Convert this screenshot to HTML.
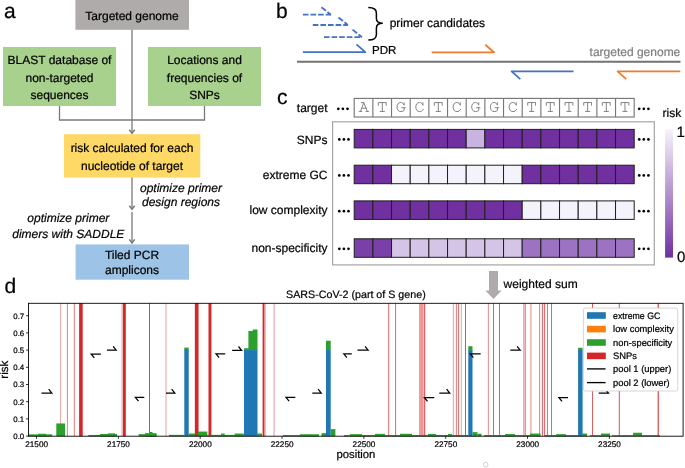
<!DOCTYPE html>
<html><head><meta charset="utf-8"><title>figure</title>
<style>
html,body{margin:0;padding:0;background:#fff;}
body{width:685px;height:468px;overflow:hidden;font-family:"Liberation Sans",sans-serif;}
svg{display:block;font-family:"Liberation Sans",sans-serif;text-rendering:geometricPrecision;}
text{stroke:currentColor;stroke-width:0.22px;}

</style></head><body>
<svg width="685" height="468" viewBox="0 0 685 468">
<rect width="685" height="468" fill="#fff"/>
<g opacity="0.999">
<g id="pa">
<rect x="75.4" y="0" width="113.6" height="29.8" fill="#AFABAB"/>
<rect x="3" y="47" width="113" height="59" fill="#A9D18E"/>
<rect x="148" y="47" width="113" height="59" fill="#A9D18E"/>
<rect x="64" y="134.2" width="136.3" height="43.4" fill="#FFD966"/>
<rect x="75.6" y="244.4" width="113.4" height="35.3" fill="#9DC3E6"/>
<g fill="none" stroke="#7a7a7a" stroke-width="1.3">
<path d="M132 29.5 V132.5"/>
<path d="M59.5 106 V120 H204.5 V106"/>
<path d="M132 177.6 V208.5"/>
<path d="M132 212 V242"/>
<path d="M129.3 129.70000000000002 L132 133.3 L134.7 129.70000000000002" stroke-width="1.5"/>
<path d="M129.3 205.70000000000002 L132 209.3 L134.7 205.70000000000002" stroke-width="1.5"/>
<path d="M129.3 239.4 L132 243 L134.7 239.4" stroke-width="1.5"/>
</g>
<text x="4" y="18" font-size="21" text-anchor="start" fill="#000" color="#000">a</text>
<text x="132" y="20.2" font-size="12" text-anchor="middle" fill="#000" color="#000">Targeted genome</text>
<text x="59.5" y="64.2" font-size="12" text-anchor="middle" fill="#000" color="#000">BLAST database of</text>
<text x="59.5" y="81.55000000000001" font-size="12" text-anchor="middle" fill="#000" color="#000">non-targeted</text>
<text x="59.5" y="98.9" font-size="12" text-anchor="middle" fill="#000" color="#000">sequences</text>
<text x="204.5" y="64.2" font-size="12" text-anchor="middle" fill="#000" color="#000">Locations and</text>
<text x="204.5" y="81.55000000000001" font-size="12" text-anchor="middle" fill="#000" color="#000">frequencies of</text>
<text x="204.5" y="98.9" font-size="12" text-anchor="middle" fill="#000" color="#000">SNPs</text>
<text x="132" y="152.3" font-size="12" text-anchor="middle" fill="#000" color="#000">risk calculated for each</text>
<text x="132" y="169.7" font-size="12" text-anchor="middle" fill="#000" color="#000">nucleotide of target</text>
<text x="181" y="192.2" font-size="12" text-anchor="middle" fill="#000" color="#000" font-style="italic">optimize primer</text>
<text x="181" y="206.2" font-size="12" text-anchor="middle" fill="#000" color="#000" font-style="italic">design regions</text>
<text x="68.3" y="222.4" font-size="12" text-anchor="middle" fill="#000" color="#000" font-style="italic">optimize primer</text>
<text x="68.3" y="237.6" font-size="12" text-anchor="middle" fill="#000" color="#000" font-style="italic">dimers with SADDLE</text>
<text x="132" y="259" font-size="12" text-anchor="middle" fill="#000" color="#000">Tiled PCR</text>
<text x="132" y="273.6" font-size="12" text-anchor="middle" fill="#000" color="#000">amplicons</text>
</g>
<g id="pb">
<text x="276" y="18" font-size="21" text-anchor="start" fill="#000" color="#000">b</text>
<g fill="none" stroke="#4472C4" stroke-width="1.8" stroke-linejoin="round">
<path d="M302.9 14.7 H330.9" stroke-dasharray="5.6 2.0"/>
<path d="M330.9 14.7 L321.4 7.3" stroke-dasharray="4.4 1.9 6 2"/>
<path d="M312.8 25.0 H347.9" stroke-dasharray="5.6 2.0"/>
<path d="M347.9 25.0 L338.5 17.5" stroke-dasharray="4.4 1.9 6 2"/>
<path d="M324.0 37.2 H362.0" stroke-dasharray="5.6 2.0"/>
<path d="M362.0 37.2 L352.5 29.6" stroke-dasharray="4.4 1.9 6 2"/>
<path d="M302.9 52.1 H365.3 L356.5 44.3"/>
<path d="M573.5 71.4 H511.6 L520.3 79.2"/>
</g>
<g fill="none" stroke="#ED7D31" stroke-width="1.8" stroke-linejoin="round">
<path d="M431.7 52.3 H494 L485.3 44.8"/>
<path d="M680.3 71.4 H617.6 L626.2 79.2"/>
</g>
<path d="M297 61.7 H680.5" stroke="#767171" stroke-width="2.1" fill="none"/>
<path d="M368.3 7.6 C374.6 7.6 376.4 9.6 376.4 13.2 V18.6 C376.4 21.8 378 23.3 382.8 23.3 C378 23.3 376.4 24.8 376.4 28 V34.4 C376.4 38 374.6 40 368.3 40" fill="none" stroke="#000" stroke-width="1.5"/>
<text x="389.7" y="26.8" font-size="12" text-anchor="start" fill="#000" color="#000">primer candidates</text>
<text x="372" y="54.4" font-size="11.6" text-anchor="start" fill="#000" color="#000">PDR</text>
<text x="680.3" y="56.3" font-size="12" text-anchor="end" fill="#7f7f7f" color="#7f7f7f">targeted genome</text>
</g>
<g id="pc">
<text x="277" y="104.2" font-size="21" text-anchor="start" fill="#000" color="#000">c</text>
<rect x="354.2" y="98.4" width="280.00000000000006" height="18.6" fill="#fff" stroke="#7b7676" stroke-width="1.15"/>
<path d="M372.87 98.5 V117.1" stroke="#7b7676" stroke-width="1.15"/>
<path d="M391.53 98.5 V117.1" stroke="#7b7676" stroke-width="1.15"/>
<path d="M410.20 98.5 V117.1" stroke="#7b7676" stroke-width="1.15"/>
<path d="M428.87 98.5 V117.1" stroke="#7b7676" stroke-width="1.15"/>
<path d="M447.53 98.5 V117.1" stroke="#7b7676" stroke-width="1.15"/>
<path d="M466.20 98.5 V117.1" stroke="#7b7676" stroke-width="1.15"/>
<path d="M484.87 98.5 V117.1" stroke="#7b7676" stroke-width="1.15"/>
<path d="M503.53 98.5 V117.1" stroke="#7b7676" stroke-width="1.15"/>
<path d="M522.20 98.5 V117.1" stroke="#7b7676" stroke-width="1.15"/>
<path d="M540.87 98.5 V117.1" stroke="#7b7676" stroke-width="1.15"/>
<path d="M559.53 98.5 V117.1" stroke="#7b7676" stroke-width="1.15"/>
<path d="M578.20 98.5 V117.1" stroke="#7b7676" stroke-width="1.15"/>
<path d="M596.87 98.5 V117.1" stroke="#7b7676" stroke-width="1.15"/>
<path d="M615.53 98.5 V117.1" stroke="#7b7676" stroke-width="1.15"/>
<g fill="none" stroke="#7d7d7d" stroke-width="1.05" stroke-linejoin="round" stroke-linecap="round">
<path transform="translate(363.63,102.55) scale(0.89,0.925)" d="M-3.5 9.6 L0.1 0 L4.1 9.6 M-2.4 0 H0.1 M-5 9.6 H-2.1 M2.6 9.6 H5.5 M-2.2 6.1 H2.8"/>
<path transform="translate(382.30,102.55) scale(0.89,0.925)" d="M-4.4 2.9 V0 H4.4 V2.9 M0 0 V9.6 M-2.4 9.6 H2.4"/>
<path transform="translate(400.97,102.55) scale(0.89,0.925)" d="M3.5 0.2 V2.9 C2.6 0.9 1.3 -0.1 -0.2 -0.1 C-2.9 -0.1 -4.4 2.0 -4.4 4.8 C-4.4 7.7 -2.8 9.8 -0.1 9.8 C1.4 9.8 2.6 9.3 3.5 8.5 V5.6 M0.9 5.6 H4.9"/>
<path transform="translate(419.63,102.55) scale(0.89,0.925)" d="M3.7 0.2 V3.0 C2.8 0.9 1.5 -0.1 -0.1 -0.1 C-2.8 -0.1 -4.3 2.0 -4.3 4.8 C-4.3 7.7 -2.7 9.8 0 9.8 C1.7 9.8 3.1 9.0 4.1 7.4"/>
<path transform="translate(438.30,102.55) scale(0.89,0.925)" d="M-4.4 2.9 V0 H4.4 V2.9 M0 0 V9.6 M-2.4 9.6 H2.4"/>
<path transform="translate(456.97,102.55) scale(0.89,0.925)" d="M3.7 0.2 V3.0 C2.8 0.9 1.5 -0.1 -0.1 -0.1 C-2.8 -0.1 -4.3 2.0 -4.3 4.8 C-4.3 7.7 -2.7 9.8 0 9.8 C1.7 9.8 3.1 9.0 4.1 7.4"/>
<path transform="translate(475.63,102.55) scale(0.89,0.925)" d="M3.5 0.2 V2.9 C2.6 0.9 1.3 -0.1 -0.2 -0.1 C-2.9 -0.1 -4.4 2.0 -4.4 4.8 C-4.4 7.7 -2.8 9.8 -0.1 9.8 C1.4 9.8 2.6 9.3 3.5 8.5 V5.6 M0.9 5.6 H4.9"/>
<path transform="translate(494.30,102.55) scale(0.89,0.925)" d="M3.5 0.2 V2.9 C2.6 0.9 1.3 -0.1 -0.2 -0.1 C-2.9 -0.1 -4.4 2.0 -4.4 4.8 C-4.4 7.7 -2.8 9.8 -0.1 9.8 C1.4 9.8 2.6 9.3 3.5 8.5 V5.6 M0.9 5.6 H4.9"/>
<path transform="translate(512.97,102.55) scale(0.89,0.925)" d="M3.7 0.2 V3.0 C2.8 0.9 1.5 -0.1 -0.1 -0.1 C-2.8 -0.1 -4.3 2.0 -4.3 4.8 C-4.3 7.7 -2.7 9.8 0 9.8 C1.7 9.8 3.1 9.0 4.1 7.4"/>
<path transform="translate(531.63,102.55) scale(0.89,0.925)" d="M-4.4 2.9 V0 H4.4 V2.9 M0 0 V9.6 M-2.4 9.6 H2.4"/>
<path transform="translate(550.30,102.55) scale(0.89,0.925)" d="M-4.4 2.9 V0 H4.4 V2.9 M0 0 V9.6 M-2.4 9.6 H2.4"/>
<path transform="translate(568.97,102.55) scale(0.89,0.925)" d="M-4.4 2.9 V0 H4.4 V2.9 M0 0 V9.6 M-2.4 9.6 H2.4"/>
<path transform="translate(587.63,102.55) scale(0.89,0.925)" d="M-4.4 2.9 V0 H4.4 V2.9 M0 0 V9.6 M-2.4 9.6 H2.4"/>
<path transform="translate(606.30,102.55) scale(0.89,0.925)" d="M-4.4 2.9 V0 H4.4 V2.9 M0 0 V9.6 M-2.4 9.6 H2.4"/>
<path transform="translate(624.97,102.55) scale(0.89,0.925)" d="M-4.4 2.9 V0 H4.4 V2.9 M0 0 V9.6 M-2.4 9.6 H2.4"/>
</g>
<rect x="332.6" y="121.8" width="321.7" height="143.1" fill="none" stroke="#a5a1a1" stroke-width="1.15"/>
<rect x="354.20" y="129.4" width="18.67" height="18.5" fill="#7030A0" stroke="#1f1f1f" stroke-width="1"/>
<rect x="372.87" y="129.4" width="18.67" height="18.5" fill="#7030A0" stroke="#1f1f1f" stroke-width="1"/>
<rect x="391.53" y="129.4" width="18.67" height="18.5" fill="#7030A0" stroke="#1f1f1f" stroke-width="1"/>
<rect x="410.20" y="129.4" width="18.67" height="18.5" fill="#7030A0" stroke="#1f1f1f" stroke-width="1"/>
<rect x="428.87" y="129.4" width="18.67" height="18.5" fill="#7030A0" stroke="#1f1f1f" stroke-width="1"/>
<rect x="447.53" y="129.4" width="18.67" height="18.5" fill="#7030A0" stroke="#1f1f1f" stroke-width="1"/>
<rect x="466.20" y="129.4" width="18.67" height="18.5" fill="#C9B3E0" stroke="#1f1f1f" stroke-width="1"/>
<rect x="484.87" y="129.4" width="18.67" height="18.5" fill="#7030A0" stroke="#1f1f1f" stroke-width="1"/>
<rect x="503.53" y="129.4" width="18.67" height="18.5" fill="#7030A0" stroke="#1f1f1f" stroke-width="1"/>
<rect x="522.20" y="129.4" width="18.67" height="18.5" fill="#7030A0" stroke="#1f1f1f" stroke-width="1"/>
<rect x="540.87" y="129.4" width="18.67" height="18.5" fill="#7030A0" stroke="#1f1f1f" stroke-width="1"/>
<rect x="559.53" y="129.4" width="18.67" height="18.5" fill="#7030A0" stroke="#1f1f1f" stroke-width="1"/>
<rect x="578.20" y="129.4" width="18.67" height="18.5" fill="#7030A0" stroke="#1f1f1f" stroke-width="1"/>
<rect x="596.87" y="129.4" width="18.67" height="18.5" fill="#7030A0" stroke="#1f1f1f" stroke-width="1"/>
<rect x="615.53" y="129.4" width="18.67" height="18.5" fill="#7030A0" stroke="#1f1f1f" stroke-width="1"/>
<text x="327.5" y="143.9" font-size="12" text-anchor="end" fill="#000" color="#000">SNPs</text>
<rect x="354.20" y="165.2" width="18.67" height="18.5" fill="#7030A0" stroke="#1f1f1f" stroke-width="1"/>
<rect x="372.87" y="165.2" width="18.67" height="18.5" fill="#7030A0" stroke="#1f1f1f" stroke-width="1"/>
<rect x="391.53" y="165.2" width="18.67" height="18.5" fill="#F4F2FA" stroke="#1f1f1f" stroke-width="1"/>
<rect x="410.20" y="165.2" width="18.67" height="18.5" fill="#F4F2FA" stroke="#1f1f1f" stroke-width="1"/>
<rect x="428.87" y="165.2" width="18.67" height="18.5" fill="#F4F2FA" stroke="#1f1f1f" stroke-width="1"/>
<rect x="447.53" y="165.2" width="18.67" height="18.5" fill="#F4F2FA" stroke="#1f1f1f" stroke-width="1"/>
<rect x="466.20" y="165.2" width="18.67" height="18.5" fill="#F4F2FA" stroke="#1f1f1f" stroke-width="1"/>
<rect x="484.87" y="165.2" width="18.67" height="18.5" fill="#F4F2FA" stroke="#1f1f1f" stroke-width="1"/>
<rect x="503.53" y="165.2" width="18.67" height="18.5" fill="#F4F2FA" stroke="#1f1f1f" stroke-width="1"/>
<rect x="522.20" y="165.2" width="18.67" height="18.5" fill="#7030A0" stroke="#1f1f1f" stroke-width="1"/>
<rect x="540.87" y="165.2" width="18.67" height="18.5" fill="#7030A0" stroke="#1f1f1f" stroke-width="1"/>
<rect x="559.53" y="165.2" width="18.67" height="18.5" fill="#7030A0" stroke="#1f1f1f" stroke-width="1"/>
<rect x="578.20" y="165.2" width="18.67" height="18.5" fill="#7030A0" stroke="#1f1f1f" stroke-width="1"/>
<rect x="596.87" y="165.2" width="18.67" height="18.5" fill="#7030A0" stroke="#1f1f1f" stroke-width="1"/>
<rect x="615.53" y="165.2" width="18.67" height="18.5" fill="#7030A0" stroke="#1f1f1f" stroke-width="1"/>
<text x="327.5" y="179.4" font-size="12" text-anchor="end" fill="#000" color="#000">extreme GC</text>
<rect x="354.20" y="200.9" width="18.67" height="18.5" fill="#7030A0" stroke="#1f1f1f" stroke-width="1"/>
<rect x="372.87" y="200.9" width="18.67" height="18.5" fill="#7030A0" stroke="#1f1f1f" stroke-width="1"/>
<rect x="391.53" y="200.9" width="18.67" height="18.5" fill="#7030A0" stroke="#1f1f1f" stroke-width="1"/>
<rect x="410.20" y="200.9" width="18.67" height="18.5" fill="#7030A0" stroke="#1f1f1f" stroke-width="1"/>
<rect x="428.87" y="200.9" width="18.67" height="18.5" fill="#7030A0" stroke="#1f1f1f" stroke-width="1"/>
<rect x="447.53" y="200.9" width="18.67" height="18.5" fill="#7030A0" stroke="#1f1f1f" stroke-width="1"/>
<rect x="466.20" y="200.9" width="18.67" height="18.5" fill="#7030A0" stroke="#1f1f1f" stroke-width="1"/>
<rect x="484.87" y="200.9" width="18.67" height="18.5" fill="#7030A0" stroke="#1f1f1f" stroke-width="1"/>
<rect x="503.53" y="200.9" width="18.67" height="18.5" fill="#7030A0" stroke="#1f1f1f" stroke-width="1"/>
<rect x="522.20" y="200.9" width="18.67" height="18.5" fill="#F4F2FA" stroke="#1f1f1f" stroke-width="1"/>
<rect x="540.87" y="200.9" width="18.67" height="18.5" fill="#F4F2FA" stroke="#1f1f1f" stroke-width="1"/>
<rect x="559.53" y="200.9" width="18.67" height="18.5" fill="#F4F2FA" stroke="#1f1f1f" stroke-width="1"/>
<rect x="578.20" y="200.9" width="18.67" height="18.5" fill="#F4F2FA" stroke="#1f1f1f" stroke-width="1"/>
<rect x="596.87" y="200.9" width="18.67" height="18.5" fill="#F4F2FA" stroke="#1f1f1f" stroke-width="1"/>
<rect x="615.53" y="200.9" width="18.67" height="18.5" fill="#F4F2FA" stroke="#1f1f1f" stroke-width="1"/>
<text x="327.5" y="214.3" font-size="12" text-anchor="end" fill="#000" color="#000">low complexity</text>
<rect x="354.20" y="238.8" width="18.67" height="18.5" fill="#7B3FA8" stroke="#1f1f1f" stroke-width="1"/>
<rect x="372.87" y="238.8" width="18.67" height="18.5" fill="#7B3FA8" stroke="#1f1f1f" stroke-width="1"/>
<rect x="391.53" y="238.8" width="18.67" height="18.5" fill="#D4C4E6" stroke="#1f1f1f" stroke-width="1"/>
<rect x="410.20" y="238.8" width="18.67" height="18.5" fill="#D4C4E6" stroke="#1f1f1f" stroke-width="1"/>
<rect x="428.87" y="238.8" width="18.67" height="18.5" fill="#D4C4E6" stroke="#1f1f1f" stroke-width="1"/>
<rect x="447.53" y="238.8" width="18.67" height="18.5" fill="#D4C4E6" stroke="#1f1f1f" stroke-width="1"/>
<rect x="466.20" y="238.8" width="18.67" height="18.5" fill="#D4C4E6" stroke="#1f1f1f" stroke-width="1"/>
<rect x="484.87" y="238.8" width="18.67" height="18.5" fill="#D4C4E6" stroke="#1f1f1f" stroke-width="1"/>
<rect x="503.53" y="238.8" width="18.67" height="18.5" fill="#D4C4E6" stroke="#1f1f1f" stroke-width="1"/>
<rect x="522.20" y="238.8" width="18.67" height="18.5" fill="#9C73C2" stroke="#1f1f1f" stroke-width="1"/>
<rect x="540.87" y="238.8" width="18.67" height="18.5" fill="#9C73C2" stroke="#1f1f1f" stroke-width="1"/>
<rect x="559.53" y="238.8" width="18.67" height="18.5" fill="#9C73C2" stroke="#1f1f1f" stroke-width="1"/>
<rect x="578.20" y="238.8" width="18.67" height="18.5" fill="#9C73C2" stroke="#1f1f1f" stroke-width="1"/>
<rect x="596.87" y="238.8" width="18.67" height="18.5" fill="#9C73C2" stroke="#1f1f1f" stroke-width="1"/>
<rect x="615.53" y="238.8" width="18.67" height="18.5" fill="#9C73C2" stroke="#1f1f1f" stroke-width="1"/>
<text x="327.5" y="251.5" font-size="12" text-anchor="end" fill="#000" color="#000">non-specificity</text>
<text x="327.5" y="112.3" font-size="12" text-anchor="end" fill="#000" color="#000">target</text>
<circle cx="338.3" cy="108.8" r="1.35" fill="#000"/>
<circle cx="342.9" cy="108.8" r="1.35" fill="#000"/>
<circle cx="347.5" cy="108.8" r="1.35" fill="#000"/>
<circle cx="639.2" cy="108.8" r="1.35" fill="#000"/>
<circle cx="643.8" cy="108.8" r="1.35" fill="#000"/>
<circle cx="648.4" cy="108.8" r="1.35" fill="#000"/>
<circle cx="339.3" cy="139.4" r="1.35" fill="#000"/>
<circle cx="343.9" cy="139.4" r="1.35" fill="#000"/>
<circle cx="348.5" cy="139.4" r="1.35" fill="#000"/>
<circle cx="639.2" cy="139.4" r="1.35" fill="#000"/>
<circle cx="643.8" cy="139.4" r="1.35" fill="#000"/>
<circle cx="648.4" cy="139.4" r="1.35" fill="#000"/>
<circle cx="339.3" cy="175.4" r="1.35" fill="#000"/>
<circle cx="343.9" cy="175.4" r="1.35" fill="#000"/>
<circle cx="348.5" cy="175.4" r="1.35" fill="#000"/>
<circle cx="639.2" cy="175.4" r="1.35" fill="#000"/>
<circle cx="643.8" cy="175.4" r="1.35" fill="#000"/>
<circle cx="648.4" cy="175.4" r="1.35" fill="#000"/>
<circle cx="339.3" cy="211.2" r="1.35" fill="#000"/>
<circle cx="343.9" cy="211.2" r="1.35" fill="#000"/>
<circle cx="348.5" cy="211.2" r="1.35" fill="#000"/>
<circle cx="639.2" cy="211.2" r="1.35" fill="#000"/>
<circle cx="643.8" cy="211.2" r="1.35" fill="#000"/>
<circle cx="648.4" cy="211.2" r="1.35" fill="#000"/>
<circle cx="339.3" cy="248.8" r="1.35" fill="#000"/>
<circle cx="343.9" cy="248.8" r="1.35" fill="#000"/>
<circle cx="348.5" cy="248.8" r="1.35" fill="#000"/>
<circle cx="639.2" cy="248.8" r="1.35" fill="#000"/>
<circle cx="643.8" cy="248.8" r="1.35" fill="#000"/>
<circle cx="648.4" cy="248.8" r="1.35" fill="#000"/>
<defs><linearGradient id="cb" x1="0" y1="0" x2="0" y2="1"><stop offset="0" stop-color="#F6F4FB"/><stop offset="1" stop-color="#7030A0"/></linearGradient></defs>
<rect x="665.1" y="129.2" width="7.9" height="128.4" fill="url(#cb)"/>
<text x="662.6" y="117.4" font-size="12" text-anchor="start" fill="#000" color="#000">risk</text>
<text x="676.5" y="137" font-size="15" text-anchor="start" fill="#000" color="#000">1</text>
<text x="676.9" y="261.9" font-size="15" text-anchor="start" fill="#000" color="#000">0</text>
<path d="M489 270.9 H498 V290.5 H501.6 L493.5 299 L485.4 290.5 H489 Z" fill="#AFABAB"/>
<text x="503.6" y="287.8" font-size="12" text-anchor="start" fill="#000" color="#000">weighted sum</text>
</g>
<g id="pd">
<text x="4.6" y="293" font-size="21" text-anchor="start" fill="#000" color="#000">d</text>
<rect x="60.00" y="303.3" width="1" height="132.9" fill="#d62728" opacity="0.4"/>
<rect x="66.90" y="303.3" width="1" height="132.9" fill="#d62728" opacity="0.58"/>
<rect x="73.80" y="303.3" width="1.2" height="132.9" fill="#d62728" opacity="0.5"/>
<rect x="79.10" y="303.3" width="3.6" height="132.9" fill="#d62728" opacity="1"/>
<rect x="121.40" y="303.3" width="1.2" height="132.9" fill="#d62728" opacity="0.38"/>
<rect x="122.90" y="303.3" width="2.9" height="132.9" fill="#d62728" opacity="1"/>
<rect x="149.00" y="303.3" width="1" height="132.9" fill="#d62728" opacity="0.85"/>
<rect x="165.30" y="303.3" width="1.4" height="132.9" fill="#d62728" opacity="0.32"/>
<rect x="194.85" y="303.3" width="3.7" height="132.9" fill="#d62728" opacity="1"/>
<rect x="208.50" y="303.3" width="2.9" height="132.9" fill="#d62728" opacity="1"/>
<rect x="262.60" y="303.3" width="1.9" height="132.9" fill="#d62728" opacity="1"/>
<rect x="264.90" y="303.3" width="1" height="132.9" fill="#d62728" opacity="0.35"/>
<rect x="273.35" y="303.3" width="1.5" height="132.9" fill="#d62728" opacity="0.33"/>
<rect x="388.20" y="303.3" width="1" height="132.9" fill="#d62728" opacity="0.7"/>
<rect x="395.10" y="303.3" width="1" height="132.9" fill="#d62728" opacity="0.7"/>
<rect x="419.00" y="303.3" width="4.8" height="132.9" fill="#d62728" opacity="0.34"/>
<rect x="419.40" y="303.3" width="1" height="132.9" fill="#d62728" opacity="0.3"/>
<rect x="420.90" y="303.3" width="1" height="132.9" fill="#d62728" opacity="0.3"/>
<rect x="422.40" y="303.3" width="1" height="132.9" fill="#d62728" opacity="0.3"/>
<rect x="424.20" y="303.3" width="1" height="132.9" fill="#d62728" opacity="0.9"/>
<rect x="452.80" y="303.3" width="1" height="132.9" fill="#d62728" opacity="0.45"/>
<rect x="455.90" y="303.3" width="1" height="132.9" fill="#d62728" opacity="0.6"/>
<rect x="458.00" y="303.3" width="1" height="132.9" fill="#d62728" opacity="0.65"/>
<rect x="460.90" y="303.3" width="1" height="132.9" fill="#d62728" opacity="0.4"/>
<rect x="465.00" y="303.3" width="1" height="132.9" fill="#d62728" opacity="0.8"/>
<rect x="487.85" y="303.3" width="1.1" height="132.9" fill="#d62728" opacity="0.5"/>
<rect x="493.00" y="303.3" width="1" height="132.9" fill="#d62728" opacity="0.75"/>
<rect x="499.00" y="303.3" width="1" height="132.9" fill="#d62728" opacity="0.75"/>
<rect x="523.40" y="303.3" width="1" height="132.9" fill="#d62728" opacity="0.6"/>
<rect x="524.80" y="303.3" width="1" height="132.9" fill="#d62728" opacity="0.6"/>
<rect x="530.20" y="303.3" width="1.4" height="132.9" fill="#d62728" opacity="0.4"/>
<rect x="539.10" y="303.3" width="1" height="132.9" fill="#d62728" opacity="0.6"/>
<rect x="541.90" y="303.3" width="1" height="132.9" fill="#d62728" opacity="0.75"/>
<rect x="544.10" y="303.3" width="1" height="132.9" fill="#d62728" opacity="0.75"/>
<rect x="547.00" y="303.3" width="1" height="132.9" fill="#d62728" opacity="0.65"/>
<rect x="551.00" y="303.3" width="1" height="132.9" fill="#d62728" opacity="0.7"/>
<rect x="592.00" y="303.3" width="1" height="132.9" fill="#d62728" opacity="0.75"/>
<rect x="618.80" y="303.3" width="1" height="132.9" fill="#d62728" opacity="0.8"/>
<rect x="657.65" y="303.3" width="1.1" height="132.9" fill="#d62728" opacity="0.95"/>
<rect x="28.7" y="434.35" width="23.60" height="1.90" fill="#2ca02c"/>
<rect x="38" y="433.75" width="8.00" height="2.50" fill="#2ca02c"/>
<rect x="56.3" y="423.45" width="8.70" height="12.80" fill="#2ca02c"/>
<rect x="88.3" y="434.95" width="28.70" height="1.30" fill="#2ca02c"/>
<rect x="100" y="433.95" width="17.00" height="2.30" fill="#2ca02c"/>
<rect x="108" y="433.35" width="7.00" height="2.90" fill="#2ca02c"/>
<rect x="138.6" y="434.15" width="17.90" height="2.10" fill="#2ca02c"/>
<rect x="145" y="433.15" width="11.50" height="3.10" fill="#2ca02c"/>
<rect x="149" y="431.95" width="3.50" height="4.30" fill="#2ca02c"/>
<rect x="169" y="434.85" width="15.30" height="1.40" fill="#2ca02c"/>
<rect x="188.7" y="433.55" width="6.30" height="2.70" fill="#2ca02c"/>
<rect x="198" y="431.55" width="9.30" height="4.70" fill="#2ca02c"/>
<rect x="207.3" y="434.85" width="36.50" height="1.40" fill="#2ca02c"/>
<rect x="221" y="433.55" width="3.70" height="2.70" fill="#2ca02c"/>
<rect x="234.6" y="433.55" width="9.20" height="2.70" fill="#2ca02c"/>
<rect x="257.2" y="433.55" width="4.80" height="2.70" fill="#2ca02c"/>
<rect x="283" y="435.05" width="36.00" height="1.20" fill="#2ca02c"/>
<rect x="300" y="434.25" width="19.00" height="2.00" fill="#2ca02c"/>
<rect x="321.5" y="433.15" width="4.50" height="3.10" fill="#2ca02c"/>
<rect x="330.7" y="429.15" width="4.70" height="7.10" fill="#2ca02c"/>
<rect x="344" y="435.05" width="76.00" height="1.20" fill="#2ca02c"/>
<rect x="350" y="434.15" width="12.00" height="2.10" fill="#2ca02c"/>
<rect x="375" y="433.85" width="10.00" height="2.40" fill="#2ca02c"/>
<rect x="400" y="433.75" width="12.00" height="2.50" fill="#2ca02c"/>
<rect x="420" y="434.95" width="48.30" height="1.30" fill="#2ca02c"/>
<rect x="428" y="433.95" width="8.00" height="2.30" fill="#2ca02c"/>
<rect x="448" y="433.95" width="4.00" height="2.30" fill="#2ca02c"/>
<rect x="472.5" y="432.15" width="5.00" height="4.10" fill="#2ca02c"/>
<rect x="477.5" y="433.75" width="4.00" height="2.50" fill="#2ca02c"/>
<rect x="484" y="435.05" width="46.00" height="1.20" fill="#2ca02c"/>
<rect x="505" y="434.05" width="10.00" height="2.20" fill="#2ca02c"/>
<rect x="530" y="433.55" width="10.50" height="2.70" fill="#2ca02c"/>
<rect x="545" y="435.05" width="33.00" height="1.20" fill="#2ca02c"/>
<rect x="556" y="434.15" width="10.00" height="2.10" fill="#2ca02c"/>
<rect x="582.2" y="433.55" width="4.80" height="2.70" fill="#2ca02c"/>
<rect x="590" y="435.15" width="11.00" height="1.10" fill="#2ca02c"/>
<rect x="601" y="433.55" width="9.00" height="2.70" fill="#2ca02c"/>
<rect x="612" y="435.15" width="21.00" height="1.10" fill="#2ca02c"/>
<rect x="633" y="432.75" width="9.00" height="3.50" fill="#2ca02c"/>
<rect x="642" y="435.15" width="18.00" height="1.10" fill="#2ca02c"/>
<path d="M184.3 350.3 L184.3 347.6 L188.7 347.6 L188.7 350.3 Z" fill="#2ca02c"/>
<rect x="184.3" y="349.8" width="4.40" height="86.45" fill="#1f77b4"/>
<path d="M244 350.6 L244 348.3 L248.4 348.3 L248.4 330.9 L252.7 330.9 L252.7 329.4 L257.5 329.4 L257.5 350.6 Z" fill="#2ca02c"/>
<rect x="244" y="350.1" width="13.50" height="86.15" fill="#1f77b4"/>
<path d="M326 350.6 L326 340.7 L330.7 340.7 L330.7 350.6 Z" fill="#2ca02c"/>
<rect x="326" y="350.1" width="4.70" height="86.15" fill="#1f77b4"/>
<path d="M468.3 350.8 L468.3 346.2 L472.5 346.2 L472.5 350.8 Z" fill="#2ca02c"/>
<rect x="468.3" y="350.3" width="4.20" height="85.95" fill="#1f77b4"/>
<path d="M578.1 350.4 L578.1 347.8 L582.6 347.8 L582.6 350.4 Z" fill="#2ca02c"/>
<rect x="578.1" y="349.9" width="4.50" height="86.35" fill="#1f77b4"/>
<g fill="none" stroke="#000" stroke-width="1.25">
<path d="M41.4 393 H51.8 L48.7 389.2"/>
<path d="M106.9 350.2 H116.2 L113.1 346.4"/>
<path d="M166 393 H174.8 L171.7 389.2"/>
<path d="M232.1 350.3 H241.6 L238.5 346.5"/>
<path d="M312.3 393 H321.2 L318.1 389.2"/>
<path d="M357.5 350.2 H368.1 L365.0 346.4"/>
<path d="M439.3 393 H449.7 L446.6 389.2"/>
<path d="M510.3 350.1 H520.2 L517.1 346.3"/>
<path d="M598.7 393.2 H608.5 L605.4 389.4"/>
<path d="M100.9 354 H91.2 L94.3 357.8"/>
<path d="M144.3 397.3 H135.4 L138.5 401.1"/>
<path d="M225.2 353.9 H216 L219.1 357.7"/>
<path d="M295.3 397.3 H286 L289.1 401.1"/>
<path d="M351.8 353.9 H343.8 L346.9 357.7"/>
<path d="M434.3 397.5 H424.4 L427.5 401.3"/>
<path d="M480.7 353.9 H470.3 L473.4 357.7"/>
<path d="M568 397.6 H558.9 L562.0 401.4"/>
</g>
<rect x="28.5" y="303.3" width="654.6" height="132.9" fill="none" stroke="#000" stroke-width="0.9"/>
<path d="M26.0 436.10 H28.5" stroke="#000" stroke-width="0.8"/>
<text x="24.2" y="439.00" font-size="7.85" text-anchor="end" fill="#000" color="#000">0.0</text>
<path d="M26.0 418.90 H28.5" stroke="#000" stroke-width="0.8"/>
<text x="24.2" y="421.80" font-size="7.85" text-anchor="end" fill="#000" color="#000">0.1</text>
<path d="M26.0 401.70 H28.5" stroke="#000" stroke-width="0.8"/>
<text x="24.2" y="404.60" font-size="7.85" text-anchor="end" fill="#000" color="#000">0.2</text>
<path d="M26.0 384.50 H28.5" stroke="#000" stroke-width="0.8"/>
<text x="24.2" y="387.40" font-size="7.85" text-anchor="end" fill="#000" color="#000">0.3</text>
<path d="M26.0 367.30 H28.5" stroke="#000" stroke-width="0.8"/>
<text x="24.2" y="370.20" font-size="7.85" text-anchor="end" fill="#000" color="#000">0.4</text>
<path d="M26.0 350.10 H28.5" stroke="#000" stroke-width="0.8"/>
<text x="24.2" y="353.00" font-size="7.85" text-anchor="end" fill="#000" color="#000">0.5</text>
<path d="M26.0 332.90 H28.5" stroke="#000" stroke-width="0.8"/>
<text x="24.2" y="335.80" font-size="7.85" text-anchor="end" fill="#000" color="#000">0.6</text>
<path d="M26.0 315.70 H28.5" stroke="#000" stroke-width="0.8"/>
<text x="24.2" y="318.60" font-size="7.85" text-anchor="end" fill="#000" color="#000">0.7</text>
<path d="M36.50 436.25 V438.85" stroke="#000" stroke-width="0.8"/>
<text x="36.65" y="446.5" font-size="8.2" text-anchor="middle" fill="#000" color="#000">21500</text>
<path d="M118.34 436.25 V438.85" stroke="#000" stroke-width="0.8"/>
<text x="118.49" y="446.5" font-size="8.2" text-anchor="middle" fill="#000" color="#000">21750</text>
<path d="M200.18 436.25 V438.85" stroke="#000" stroke-width="0.8"/>
<text x="200.32" y="446.5" font-size="8.2" text-anchor="middle" fill="#000" color="#000">22000</text>
<path d="M282.01 436.25 V438.85" stroke="#000" stroke-width="0.8"/>
<text x="282.16" y="446.5" font-size="8.2" text-anchor="middle" fill="#000" color="#000">22250</text>
<path d="M363.85 436.25 V438.85" stroke="#000" stroke-width="0.8"/>
<text x="364.00" y="446.5" font-size="8.2" text-anchor="middle" fill="#000" color="#000">22500</text>
<path d="M445.69 436.25 V438.85" stroke="#000" stroke-width="0.8"/>
<text x="445.84" y="446.5" font-size="8.2" text-anchor="middle" fill="#000" color="#000">22750</text>
<path d="M527.52 436.25 V438.85" stroke="#000" stroke-width="0.8"/>
<text x="527.68" y="446.5" font-size="8.2" text-anchor="middle" fill="#000" color="#000">23000</text>
<path d="M609.36 436.25 V438.85" stroke="#000" stroke-width="0.8"/>
<text x="609.51" y="446.5" font-size="8.2" text-anchor="middle" fill="#000" color="#000">23250</text>
<text x="355.9" y="458.4" font-size="11.3" text-anchor="middle" fill="#000" color="#000">position</text>
<text transform="translate(8.3,369.7) rotate(-90)" font-size="11.5" text-anchor="middle">risk</text>
<text x="355.9" y="298.2" font-size="10.7" text-anchor="middle" fill="#000" color="#000">SARS-CoV-2 (part of S gene)</text>
<rect x="583.4" y="308.1" width="94.3" height="82.9" rx="2" ry="2" fill="#fff" stroke="#cccccc" stroke-width="0.8"/>
<rect x="587" y="312.20" width="18.8" height="6.6" fill="#1f77b4"/>
<text x="613.1" y="318.60" font-size="9.35" text-anchor="start" fill="#000" color="#000" textLength="47.2" lengthAdjust="spacingAndGlyphs">extreme GC</text>
<rect x="587" y="325.80" width="18.8" height="6.6" fill="#ff7f0e"/>
<text x="613.1" y="332.20" font-size="9.35" text-anchor="start" fill="#000" color="#000">low complexity</text>
<rect x="587" y="339.20" width="18.8" height="6.6" fill="#2ca02c"/>
<text x="613.1" y="345.60" font-size="9.35" text-anchor="start" fill="#000" color="#000">non-specificity</text>
<rect x="587" y="352.60" width="18.8" height="6.6" fill="#d62728"/>
<text x="613.1" y="359.00" font-size="9.35" text-anchor="start" fill="#000" color="#000">SNPs</text>
<path d="M587 368.9 H605.6" stroke="#000" stroke-width="1.35"/>
<text x="613.1" y="372.20" font-size="9.35" text-anchor="start" fill="#000" color="#000">pool 1 (upper)</text>
<path d="M587 382.6 H605.6" stroke="#000" stroke-width="1.35"/>
<text x="613.1" y="385.90" font-size="9.35" text-anchor="start" fill="#000" color="#000">pool 2 (lower)</text>
<circle cx="485.7" cy="464.6" r="2.3" fill="none" stroke="#bdbdbd" stroke-width="0.7"/>
</g>
</g>
</svg>
</body></html>
